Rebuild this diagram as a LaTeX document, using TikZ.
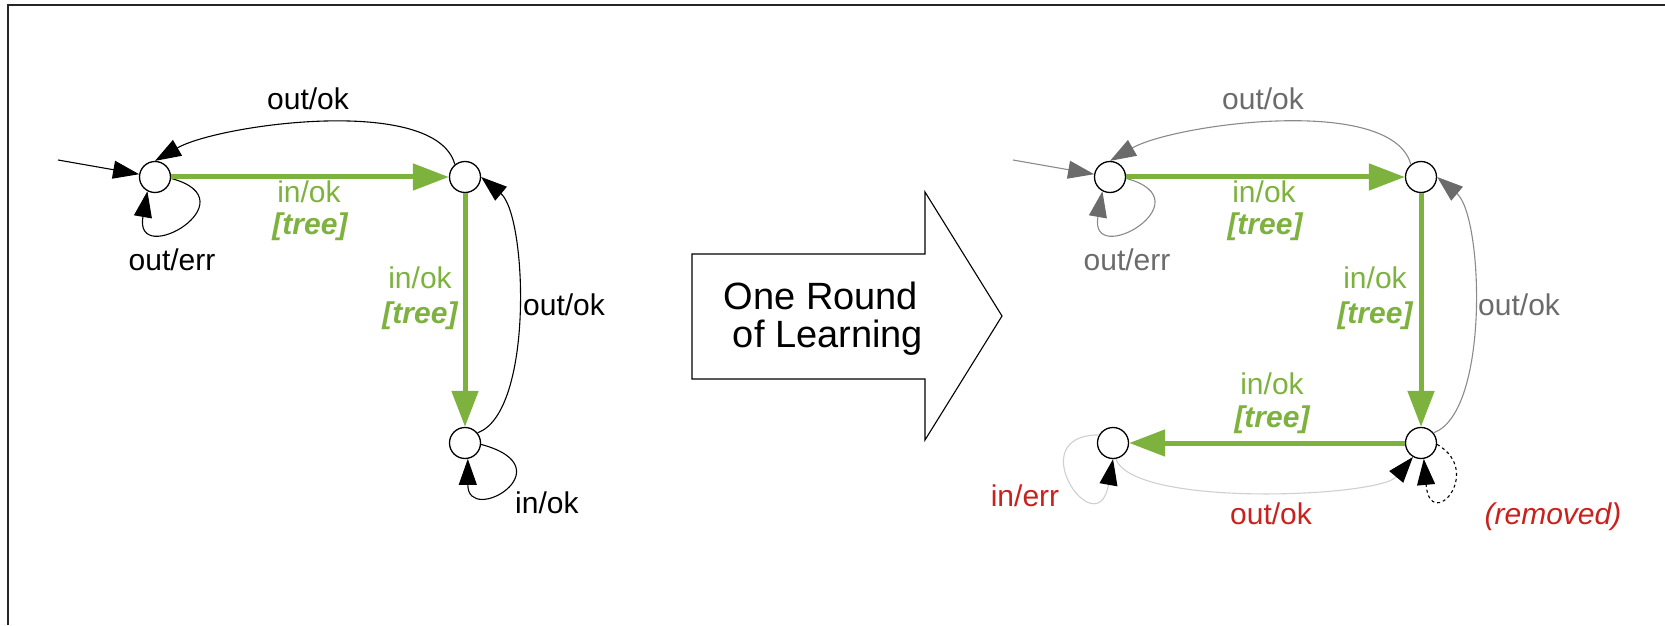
\documentclass[tikz,border=0pt]{standalone}
\usepackage{fontspec}
\setmainfont{Liberation Sans}
\usetikzlibrary{arrows.meta}

\definecolor{treegreen}{HTML}{7EB23E}
\definecolor{errred}{HTML}{C9211E}
\definecolor{oldtext}{HTML}{6B6B6B}
\definecolor{oldline}{HTML}{8A8A8A}
\definecolor{paleline}{HTML}{CFCFCF}

\begin{document}
\begin{tikzpicture}[
    x=1pt, y=1pt,
    state/.style={circle, draw, line width=1.3pt, fill=white, minimum size=31pt, inner sep=0pt},
    lbl/.style={font=\fontsize{30}{32}\selectfont, inner sep=0pt, anchor=base},
    treelbl/.style={lbl, text=treegreen, font=\fontsize{30}{32}\selectfont\bfseries\itshape},
    trans/.style={draw, line width=1.1pt, -{Triangle[length=26pt,width=18pt]}},
    oldtrans/.style={trans, draw=oldline, -{Triangle[length=26pt,width=18pt,color=oldtext]}},
    paletrans/.style={trans, draw=paleline, -{Triangle[length=26pt,width=18pt,color=black]}},
    tree/.style={draw=treegreen, line width=5pt, -{Triangle[length=36pt,width=26pt]}},
  ]
  \useasboundingbox (0,0) rectangle (1665,625);
  % frame
  \draw[line width=2.5pt, black!85] (8,0) -- (8,620) -- (1665,620);

  % --- before learning ---
  \coordinate (init0) at (58,465);
  \node[state] (s0) at (155,448) {};
  \node[state] (s1) at (465,448) {};
  \node[state] (s2) at (465,182) {};

  \draw[trans] (init0) -- (s0);
  \draw[trans] (s1.129) to[out=105,in=30,looseness=0.62] (s0.north);
  \draw[trans] (s0.-5) .. controls +(-15:85) and +(-100:80) .. (s0.242);
  \draw[trans] (s2.39) to[out=20,in=-40,looseness=0.6] (s1.east);
  \draw[trans] (s2.-5) .. controls +(-15:90) and +(-90:68) .. (s2.-80);
  \draw[tree] (s0) -- (s1);
  \draw[tree] (s1) -- (s2);

  \node[lbl] (a-top) at (308,515) {out/ok};
  \node[lbl] (a-err) at (172,355) {out/err};
  \node[lbl, text=treegreen] (a-in1) at (309,422) {in/ok};
  \node[treelbl] (a-tr1) at (310,390) {[tree]};
  \node[lbl, text=treegreen] (a-in2) at (420,337) {in/ok};
  \node[treelbl] (a-tr2) at (420,302) {[tree]};
  \node[lbl, anchor=base west] (a-back) at (523,310) {out/ok};
  \node[lbl, anchor=base west] (a-loop) at (515,112) {in/ok};

  % --- the big arrow ---
  \draw[line width=1.1pt, fill=white] (692,246) -- (925,246) -- (925,185) -- (1002,309)
    -- (925,433) -- (925,371) -- (692,371) -- cycle;
  \node[font=\fontsize{38}{38}\selectfont, inner sep=0pt, anchor=base] (round1) at (821,316) {One Round};
  \node[font=\fontsize{38}{38}\selectfont, inner sep=0pt, anchor=base] (round2) at (828,278) {of Learning};

  % --- after learning ---
  \coordinate (init1) at (1013,465);
  \node[state] (t0) at (1110,448) {};
  \node[state] (t1) at (1421,448) {};
  \node[state] (t2) at (1421,182) {};
  \node[state] (t3) at (1113,182) {};

  \draw[oldtrans] (init1) -- (t0);
  \draw[oldtrans] (t1.129) to[out=105,in=30,looseness=0.62] (t0.north);
  \draw[oldtrans] (t0.-5) .. controls +(-15:85) and +(-100:80) .. (t0.242);
  \draw[oldtrans] (t2.39) to[out=20,in=-40,looseness=0.6] (t1.east);
  \draw[paletrans] (t3.150) .. controls +(180:80) and +(-100:90) .. (t3.south);
  \draw[paletrans] (t3.-80) to[out=-70,in=-130,looseness=0.45] (t2.240);
  \draw[trans, dash pattern=on 3pt off 3pt] (t2.-5) .. controls +(-30:55) and +(-85:75) .. (t2.-80);
  \draw[tree] (t0) -- (t1);
  \draw[tree] (t1) -- (t2);
  \draw[tree] (t2) -- (t3);

  \node[lbl, text=oldtext] (b-top) at (1263,515) {out/ok};
  \node[lbl, text=oldtext] (b-err) at (1127,355) {out/err};
  \node[lbl, text=treegreen] (b-in1) at (1264,422) {in/ok};
  \node[treelbl] (b-tr1) at (1265,390) {[tree]};
  \node[lbl, text=treegreen] (b-in2) at (1375,337) {in/ok};
  \node[treelbl] (b-tr2) at (1375,302) {[tree]};
  \node[lbl, text=oldtext, anchor=base west] (b-back) at (1478,310) {out/ok};
  \node[lbl, text=treegreen] (b-in3) at (1272,231) {in/ok};
  \node[treelbl] (b-tr3) at (1272,198) {[tree]};
  \node[lbl, text=errred] (b-inerr) at (1025,119) {in/err};
  \node[lbl, text=errred] (b-out) at (1271,101) {out/ok};
  \node[lbl, text=errred, font=\fontsize{30}{32}\selectfont\itshape] (b-rem) at (1553,101) {(removed)};
\end{tikzpicture}
\end{document}
